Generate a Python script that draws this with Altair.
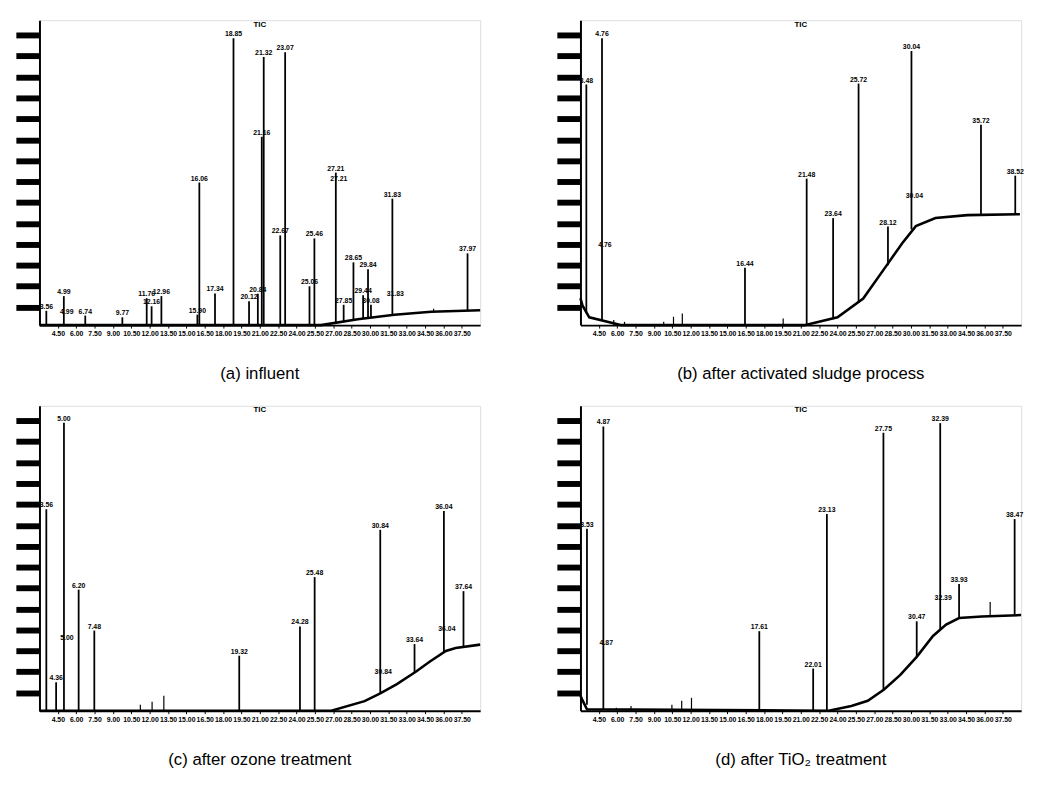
import altair as alt
import pandas as pd

# ---------------- data (retention time in min, relative abundance in %) ----------------
X_TICKS = [4.5, 6.0, 7.5, 9.0, 10.5, 12.0, 13.5, 15.0, 16.5, 18.0, 19.5, 21.0,
           22.5, 24.0, 25.5, 27.0, 28.5, 30.0, 31.5, 33.0, 34.5, 36.0, 37.5]
Y_TICKS = [6, 13, 20, 27, 34, 41, 48, 55, 62, 69, 76, 83, 90, 97]

# (a) influent
a_peak_t = [3.56, 4.99, 6.74, 9.77, 11.76, 12.16, 12.96, 15.90, 16.06, 17.34, 18.85, 20.12, 20.84, 21.16,
            21.32, 22.67, 23.07, 25.06, 25.46, 27.21, 27.85, 28.65, 29.44, 29.84, 30.08, 31.83, 37.97]
a_peak_h = [4.8, 9.7, 3.2, 2.6, 9.0, 6.3, 9.7, 3.5, 47.7, 10.6, 96.0, 8.0, 10.5, 63.0,
            89.7, 30.0, 91.3, 13.0, 29.0, 51.0, 6.8, 21.0, 10.0, 18.7, 6.8, 42.3, 24.0]
a_peak_base = [0, 0, 0, 0, 0, 0, 0, 0, 0, 0, 0, 0, 0, 0,
               0, 0, 0, 0, 0, 0.5, 1.0, 1.5, 2.2, 2.5, 2.7, 3.5, 5.0]
a_spike_t = [35.2]
a_spike_h = [5.5]
a_spike_base = [4.6]
a_sub_t = [4.99, 27.21, 31.83]
a_sub_h = [3.2, 47.7, 9.0]
a_base_t = [3.0, 26.0, 29.0, 32.0, 35.0, 39.0]
a_base_h = [0.0, 0.0, 2.0, 3.5, 4.5, 5.0]

# (b) after activated sludge process
b_peak_t = [3.48, 4.76, 16.44, 21.48, 23.64, 25.72, 28.12, 30.04, 35.72, 38.52]
b_peak_h = [80.5, 96.0, 19.2, 49.0, 35.8, 80.8, 33.0, 91.7, 67.0, 50.0]
b_peak_base = [4.0, 1.5, 0.0, 0.0, 2.0, 7.5, 20.0, 32.0, 36.8, 37.0]
b_spike_t = [5.72, 6.60, 9.80, 10.60, 11.32, 19.56]
b_spike_h = [1.7, 1.1, 1.1, 2.8, 3.9, 2.2]
b_spike_base = [0, 0, 0, 0, 0, 0]
b_sub_t = [4.76, 30.04]
b_sub_h = [25.5, 42.0]
b_base_t = [3.0, 3.16, 3.72, 6.36, 21.3, 24.0, 26.1, 28.0, 29.3, 30.4, 32.0, 34.6, 38.9]
b_base_h = [9.0, 6.6, 2.6, 0.0, 0.0, 2.6, 8.9, 19.9, 27.5, 33.1, 35.8, 36.8, 37.1]

# (c) after ozone treatment
c_peak_t = [3.56, 4.36, 5.00, 6.20, 7.48, 19.32, 24.28, 25.48, 30.84, 33.64, 36.04, 37.64]
c_peak_h = [67.4, 9.5, 96.3, 40.5, 26.8, 18.4, 28.2, 44.7, 60.5, 22.3, 66.8, 40.0]
c_peak_base = [0, 0, 0, 0, 0, 0, 0, 0, 5.8, 13.0, 19.5, 21.5]
c_spike_t = [11.24, 12.20, 13.16]
c_spike_h = [2.0, 3.0, 5.0]
c_spike_base = [0, 0, 0]
c_sub_t = [5.00, 30.84, 36.04]
c_sub_h = [23.0, 11.6, 26.0]
c_base_t = [3.0, 26.84, 29.56, 30.84, 32.2, 33.8, 34.84, 36.2, 37.0, 39.0]
c_base_h = [0.0, 0.0, 3.2, 5.8, 8.9, 13.2, 16.3, 20.0, 21.0, 22.1]

# (d) after TiO2 treatment
d_peak_t = [3.53, 4.87, 17.61, 22.01, 23.13, 27.75, 30.47, 32.39, 33.93, 38.47]
d_peak_h = [60.9, 95.1, 26.6, 14.1, 65.8, 93.0, 29.9, 96.2, 42.4, 64.1]
d_peak_base = [2.0, 0.5, 0.0, 0.0, 0.0, 7.1, 18.0, 27.0, 31.0, 32.0]
d_spike_t = [5.93, 7.13, 10.47, 11.27, 12.07, 36.47]
d_spike_h = [1.0, 1.6, 2.0, 3.3, 4.3, 36.4]
d_spike_base = [0, 0, 0, 0, 0, 31.5]
d_sub_t = [4.87, 32.39]
d_sub_h = [21.2, 36.4]
d_base_t = [3.0, 3.13, 3.53, 23.27, 25.13, 26.47, 27.8, 29.13, 30.47, 31.8, 32.87, 33.93, 35.8, 39.0]
d_base_h = [5.0, 3.8, 0.5, 0.0, 1.6, 3.3, 7.1, 12.0, 18.0, 25.0, 28.8, 31.0, 31.5, 32.0]

captions = ["(a)  influent", "(b)  after  activated  sludge  process",
            "(c)  after  ozone  treatment", "(d)  after  TiO\u2082  treatment"]
top_label = "TIC"

FONT = "Liberation Sans"
W, H = 448, 310

x_axis = alt.Axis(values=X_TICKS, format=".2f", title=None, labelFontSize=7,
                  labelFontWeight="bold", labelColor="black", tickColor="black",
                  domainColor="black", domainWidth=2, tickSize=3, labelPadding=2,
                  grid=False, labelOverlap=False, labelFlush=False)
y_axis = alt.Axis(values=Y_TICKS, labels=False, title=None, tickSize=24, tickWidth=6,
                  tickColor="black", domainColor="black", domainWidth=2, grid=False)
x_scale = alt.Scale(domain=[3, 39], nice=False, zero=False)
y_scale = alt.Scale(domain=[0, 102], nice=False)


def panel(caption, pt, ph, pb, st, sh, sb, subt, subh, bt, bh):
    base_df = pd.DataFrame({"t": bt, "h": bh})
    peak_df = pd.DataFrame({"t": pt, "h": ph, "base": pb})
    spike_df = pd.DataFrame({"t": st, "h": sh, "base": sb})
    sub_df = pd.DataFrame({"t": subt, "h": subh})
    top_df = pd.DataFrame({"t": [21.0], "h": [100.5], "lab": [top_label]})

    X = alt.X("t:Q", scale=x_scale, axis=x_axis)
    baseline = alt.Chart(base_df).mark_line(color="black", strokeWidth=2.6).encode(
        x=X, y=alt.Y("h:Q", scale=y_scale, axis=y_axis))
    peaks = alt.Chart(peak_df).mark_rule(color="black", strokeWidth=1.8).encode(
        x=X, y=alt.Y("base:Q", scale=y_scale, axis=y_axis), y2="h:Q")
    spikes = alt.Chart(spike_df).mark_rule(color="black", strokeWidth=1.2).encode(
        x=X, y=alt.Y("base:Q", scale=y_scale, axis=y_axis), y2="h:Q")
    labels = alt.Chart(peak_df).mark_text(fontSize=7, fontWeight="bold", color="black",
                                          baseline="bottom", dy=-1, font=FONT).encode(
        x=X, y=alt.Y("h:Q", scale=y_scale, axis=y_axis), text=alt.Text("t:Q", format=".2f"))
    sublabels = alt.Chart(sub_df).mark_text(fontSize=7, fontWeight="bold", color="black",
                                            baseline="bottom", dy=-1, dx=3, font=FONT).encode(
        x=X, y=alt.Y("h:Q", scale=y_scale, axis=y_axis), text=alt.Text("t:Q", format=".2f"))
    top = alt.Chart(top_df).mark_text(fontSize=8, fontWeight="bold", color="black",
                                      baseline="middle", font=FONT).encode(
        x=X, y=alt.Y("h:Q", scale=y_scale, axis=y_axis), text="lab:N")
    return alt.layer(baseline, peaks, spikes, labels, sublabels, top).properties(
        width=W, height=H,
        title=alt.TitleParams(caption, orient="bottom", fontSize=17, font=FONT,
                              fontWeight="normal", color="black", offset=30))


pa = panel(captions[0], a_peak_t, a_peak_h, a_peak_base, a_spike_t, a_spike_h, a_spike_base,
           a_sub_t, a_sub_h, a_base_t, a_base_h)
pb = panel(captions[1], b_peak_t, b_peak_h, b_peak_base, b_spike_t, b_spike_h, b_spike_base,
           b_sub_t, b_sub_h, b_base_t, b_base_h)
pc = panel(captions[2], c_peak_t, c_peak_h, c_peak_base, c_spike_t, c_spike_h, c_spike_base,
           c_sub_t, c_sub_h, c_base_t, c_base_h)
pd_ = panel(captions[3], d_peak_t, d_peak_h, d_peak_base, d_spike_t, d_spike_h, d_spike_base,
            d_sub_t, d_sub_h, d_base_t, d_base_h)

chart = alt.vconcat(
    alt.hconcat(pa, pb, spacing=68),
    alt.hconcat(pc, pd_, spacing=68),
    spacing=22,
).properties(
    padding={"left": 4, "top": 5, "right": 2, "bottom": 2}
).configure_view(stroke="#555555", strokeWidth=1.5, fill="#fbfbfb").configure(
    font=FONT, background="white")

chart.save("out.html", embed_options={"renderer": "svg", "actions": False})
